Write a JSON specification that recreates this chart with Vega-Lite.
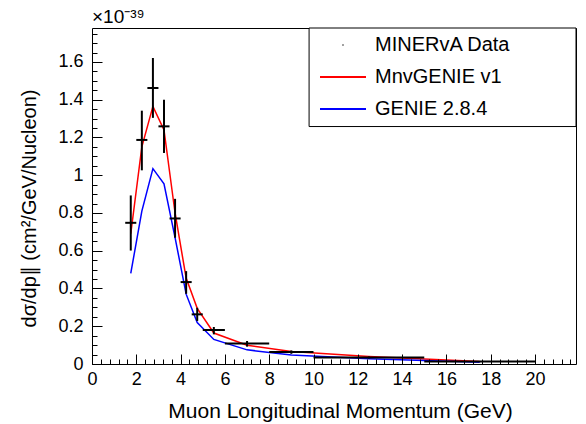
{
  "$schema": "https://vega.github.io/schema/vega-lite/v6.json",
  "width": 484,
  "height": 336,
  "autosize": "none",
  "padding": {"left": 92, "top": 28, "right": 10, "bottom": 60},
  "background": "white",
  "config": {
    "font": "Liberation Sans",
    "view": {"stroke": "black", "strokeWidth": 1},
    "axis": {"grid": false, "ticks": true, "zindex": 1}
  },
  "title": {
    "text": "×10⁻³⁹",
    "anchor": "start",
    "frame": "group",
    "fontSize": 19,
    "fontWeight": "normal",
    "font": "Liberation Sans",
    "color": "black",
    "offset": 1
  },
  "resolve": {"axis": {"x": "independent", "y": "independent"}},
  "datasets": {
    "points": [
      {"x": 1.75, "xlo": 1.5, "xhi": 2.0, "y": 0.748, "ylo": 0.601, "yhi": 0.893, "series": "MINERvA Data"},
      {"x": 2.25, "xlo": 2.0, "xhi": 2.5, "y": 1.187, "ylo": 1.026, "yhi": 1.342, "series": "MINERvA Data"},
      {"x": 2.75, "xlo": 2.5, "xhi": 3.0, "y": 1.462, "ylo": 1.304, "yhi": 1.621, "series": "MINERvA Data"},
      {"x": 3.25, "xlo": 3.0, "xhi": 3.5, "y": 1.259, "ylo": 1.118, "yhi": 1.4, "series": "MINERvA Data"},
      {"x": 3.75, "xlo": 3.5, "xhi": 4.0, "y": 0.771, "ylo": 0.669, "yhi": 0.875, "series": "MINERvA Data"},
      {"x": 4.25, "xlo": 4.0, "xhi": 4.5, "y": 0.434, "ylo": 0.372, "yhi": 0.492, "series": "MINERvA Data"},
      {"x": 4.75, "xlo": 4.5, "xhi": 5.0, "y": 0.263, "ylo": 0.228, "yhi": 0.298, "series": "MINERvA Data"},
      {"x": 5.5, "xlo": 5.0, "xhi": 6.0, "y": 0.18, "ylo": 0.157, "yhi": 0.196, "series": "MINERvA Data"},
      {"x": 7, "xlo": 6, "xhi": 8, "y": 0.108, "ylo": 0.092, "yhi": 0.122, "series": "MINERvA Data"},
      {"x": 9, "xlo": 8, "xhi": 10, "y": 0.063, "ylo": 0.054, "yhi": 0.072, "series": "MINERvA Data"},
      {"x": 12.5, "xlo": 10, "xhi": 15, "y": 0.034, "ylo": 0.029, "yhi": 0.04, "series": "MINERvA Data"},
      {"x": 17.5, "xlo": 15, "xhi": 20, "y": 0.013, "ylo": 0.01, "yhi": 0.016, "series": "MINERvA Data"}
    ],
    "curves": [
      {"x": 1.75, "y": 0.69, "series": "MnvGENIE v1"},
      {"x": 2.25, "y": 1.15, "series": "MnvGENIE v1"},
      {"x": 2.75, "y": 1.365, "series": "MnvGENIE v1"},
      {"x": 3.25, "y": 1.24, "series": "MnvGENIE v1"},
      {"x": 3.75, "y": 0.8, "series": "MnvGENIE v1"},
      {"x": 4.25, "y": 0.455, "series": "MnvGENIE v1"},
      {"x": 4.75, "y": 0.295, "series": "MnvGENIE v1"},
      {"x": 5.5, "y": 0.164, "series": "MnvGENIE v1"},
      {"x": 7, "y": 0.099, "series": "MnvGENIE v1"},
      {"x": 9, "y": 0.066, "series": "MnvGENIE v1"},
      {"x": 12.5, "y": 0.04, "series": "MnvGENIE v1"},
      {"x": 17.5, "y": 0.013, "series": "MnvGENIE v1"},
      {"x": 1.75, "y": 0.48, "series": "GENIE 2.8.4"},
      {"x": 2.25, "y": 0.81, "series": "GENIE 2.8.4"},
      {"x": 2.75, "y": 1.035, "series": "GENIE 2.8.4"},
      {"x": 3.25, "y": 0.955, "series": "GENIE 2.8.4"},
      {"x": 3.75, "y": 0.67, "series": "GENIE 2.8.4"},
      {"x": 4.25, "y": 0.37, "series": "GENIE 2.8.4"},
      {"x": 4.75, "y": 0.22, "series": "GENIE 2.8.4"},
      {"x": 5.5, "y": 0.13, "series": "GENIE 2.8.4"},
      {"x": 7, "y": 0.075, "series": "GENIE 2.8.4"},
      {"x": 9, "y": 0.048, "series": "GENIE 2.8.4"},
      {"x": 12.5, "y": 0.028, "series": "GENIE 2.8.4"},
      {"x": 17.5, "y": 0.009, "series": "GENIE 2.8.4"}
    ]
  },
  "layer": [
    {
      "data": {"name": "curves"},
      "mark": {"type": "line", "strokeWidth": 1.5},
      "encoding": {
        "x": {
          "field": "x",
          "type": "quantitative",
          "scale": {"domain": [0, 21.85], "nice": false, "zero": false},
          "axis": {
            "orient": "bottom",
            "offset": -10,
            "zindex": 1,
            "title": "Muon Longitudinal Momentum (GeV)",
            "values": [0, 2, 4, 6, 8, 10, 12, 14, 16, 18, 20],
            "format": "d",
            "ticks": true,
            "tickSize": 10,
            "tickColor": "#000000",
            "tickWidth": 1,
            "tickOpacity": 1,
            "domain": false,
            "labelFontSize": 18,
            "labelColor": "black",
            "labelPadding": 6,
            "labelOverlap": false,
            "labelFlush": false,
            "labelBound": false,
            "titleFontSize": 21,
            "titleFontWeight": "normal",
            "titleColor": "black",
            "titleX": 248,
            "titleY": 63,
            "titleAlign": "center",
            "titleBaseline": "alphabetic"
          }
        },
        "y": {
          "field": "y",
          "type": "quantitative",
          "scale": {"domain": [0, 1.78], "nice": false, "zero": false},
          "axis": {
            "orient": "left",
            "offset": -10,
            "zindex": 1,
            "title": "dσ/dp∥ (cm²/GeV/Nucleon)",
            "values": [0, 0.2, 0.4, 0.6, 0.8, 1, 1.2, 1.4, 1.6],
            "format": "~g",
            "ticks": true,
            "tickSize": 10,
            "tickColor": "#000000",
            "tickWidth": 1,
            "tickOpacity": 1,
            "domain": false,
            "labelFontSize": 18,
            "labelColor": "black",
            "labelPadding": 9,
            "labelOverlap": false,
            "labelFlush": false,
            "labelBound": false,
            "titleFontSize": 20,
            "titleFontWeight": "normal",
            "titleColor": "black",
            "titleAngle": -90,
            "titleX": -67,
            "titleY": 180,
            "titleAlign": "center",
            "titleBaseline": "alphabetic"
          }
        },
        "color": {
          "field": "series",
          "type": "nominal",
          "scale": {"domain": ["MINERvA Data", "MnvGENIE v1", "GENIE 2.8.4"], "range": ["#000000", "#ff0000", "#0000ff"]},
          "legend": {
            "orient": "none",
            "legendX": 241,
            "legendY": 7,
            "title": null,
            "padding": 0,
            "labelFontSize": 20,
            "labelFont": "Liberation Sans",
            "labelColor": "black",
            "symbolType": "M-2.3,0H2.3",
            "symbolSize": 400,
            "symbolStrokeWidth": 2,
            "labelOffset": 22,
            "rowPadding": 12,
            "encode": {
              "symbols": {
                "update": {
                  "shape": {"signal": "datum.value === 'MINERvA Data' ? 'circle' : 'M-2.3,0H2.3'"},
                  "size": {"signal": "datum.value === 'MINERvA Data' ? 2 : 400"},
                  "fill": {"signal": "datum.value === 'MINERvA Data' ? 'black' : 'transparent'"},
                  "strokeWidth": {"signal": "datum.value === 'MINERvA Data' ? 0 : 2"}
                }
              }
            }
          }
        }
      }
    },
    {
      "data": {"values": [{}]},
      "mark": {"type": "rect", "fill": "white", "stroke": "black", "strokeWidth": 1},
      "encoding": {
        "x": {
          "datum": 9.8,
          "type": "quantitative",
          "axis": {
            "orient": "bottom",
            "offset": -5,
            "zindex": 1,
            "title": null,
            "values": [0,0.4,0.8,1.2,1.6,2,2.4,2.8,3.2,3.6,4,4.4,4.8,5.2,5.6,6,6.4,6.8,7.2,7.6,8,8.4,8.8,9.2,9.6,10,10.4,10.8,11.2,11.6,12,12.4,12.8,13.2,13.6,14,14.4,14.8,15.2,15.6,16,16.4,16.8,17.2,17.6,18,18.4,18.8,19.2,19.6,20,20.4,20.8,21.2,21.6],
            "labels": false,
            "ticks": true,
            "tickSize": 5,
            "tickColor": "#000000",
            "tickWidth": 1,
            "tickOpacity": 1,
            "domain": false
          }
        },
        "x2": {"datum": 21.85},
        "y": {
          "datum": 1.78,
          "type": "quantitative",
          "axis": {
            "orient": "left",
            "offset": -5,
            "zindex": 1,
            "title": null,
            "values": [0,0.05,0.1,0.15,0.2,0.25,0.3,0.35,0.4,0.45,0.5,0.55,0.6,0.65,0.7,0.75,0.8,0.85,0.9,0.95,1,1.05,1.1,1.15,1.2,1.25,1.3,1.35,1.4,1.45,1.5,1.55,1.6,1.65,1.7,1.75],
            "labels": false,
            "ticks": true,
            "tickSize": 5,
            "tickColor": "#000000",
            "tickWidth": 1,
            "tickOpacity": 1,
            "domain": false
          }
        },
        "y2": {"datum": 1.258}
      }
    },
    {
      "data": {"name": "points"},
      "mark": {"type": "rule", "strokeWidth": 2},
      "encoding": {
        "x": {"field": "x", "type": "quantitative", "axis": null},
        "y": {"field": "ylo", "type": "quantitative", "axis": null},
        "y2": {"field": "yhi"},
        "color": {"field": "series", "type": "nominal"}
      }
    },
    {
      "data": {"name": "points"},
      "mark": {"type": "rule", "strokeWidth": 2},
      "encoding": {
        "x": {"field": "xlo", "type": "quantitative", "axis": null},
        "x2": {"field": "xhi"},
        "y": {"field": "y", "type": "quantitative", "axis": null},
        "color": {"field": "series", "type": "nominal"}
      }
    }
  ]
}
